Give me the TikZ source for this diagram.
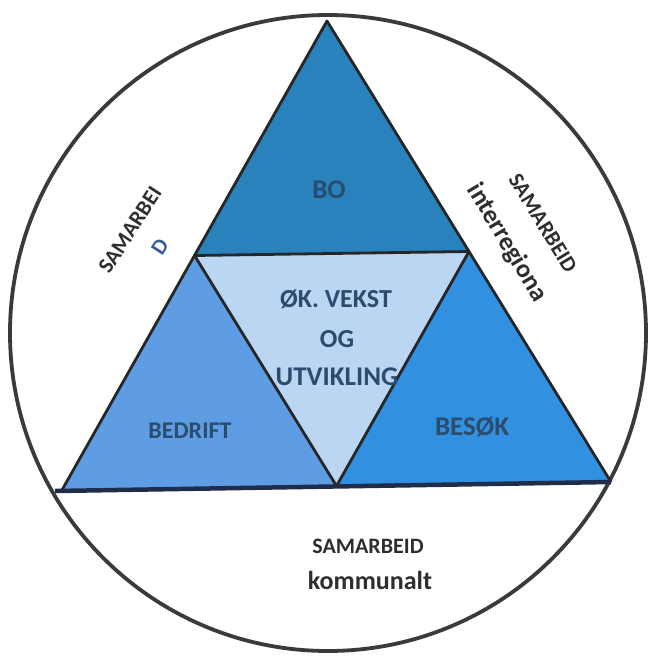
\documentclass[tikz,border=0pt]{standalone}
\usepackage{fontspec}
\setmainfont{Carlito}
\usetikzlibrary{calc}
\definecolor{topc}{HTML}{2A82BC}
\definecolor{leftc}{HTML}{5E9DE3}
\definecolor{rightc}{HTML}{3190E0}
\definecolor{centc}{HTML}{BAD6F3}
\definecolor{intxt}{HTML}{2B4B6F}
\definecolor{outtxt}{HTML}{2E2E2E}
\definecolor{ringc}{HTML}{3A3A3A}
\definecolor{basec}{HTML}{1F2D4A}
\definecolor{dc}{HTML}{3A5D9A}
\begin{document}
\begin{tikzpicture}[x=1pt,y=-1pt,
  edge/.style={draw=black!85, line width=2.8pt, line join=round},
  ring/.style={draw=ringc, line width=3.8pt},
  base/.style={draw=basec, line width=4.5pt},
  intext/.style={text=intxt, font=\fontsize{#1}{#1}\selectfont\bfseries, inner sep=0pt},
  outtext/.style={text=outtxt, font=\fontsize{#1}{#1}\selectfont\bfseries, inner sep=0pt}]
\useasboundingbox (0,0) rectangle (649,667);
\coordinate (A) at (327,21);
\coordinate (L) at (62,490);
\coordinate (R) at (611,482);
\coordinate (mAL) at ($(A)!0.5!(L)$);
\coordinate (mAR) at ($(A)!0.5!(R)$);
\coordinate (mLR) at ($(L)!0.5!(R)$);
\coordinate (O) at (328,333);
% fills
\fill[topc] (A) -- (mAL) -- (mAR) -- cycle;
\fill[leftc] (mAL) -- (L) -- (mLR) -- cycle;
\fill[rightc] (mAR) -- (mLR) -- (R) -- cycle;
\fill[centc] (mAL) -- (mAR) -- (mLR) -- cycle;
% ring
\draw[ring] (O) circle [radius=318pt];
% edges
\draw[edge] (L) -- (A) -- (R);
\draw[edge] (mAL) -- (mAR) -- (mLR) -- cycle;
\coordinate (Lb) at ($(L)+(-7,1)$);
\draw[base] (Lb) -- (R);
% labels
\node[intext=27] (bo) at (329,190) {BO};
\node[intext=26] (ok) at (336,299) {ØK. VEKST};
\node[intext=26] (og) at (337,339) {OG};
\node[intext=27] (utv) at (337,377) {UTVIKLING};
\node[intext=24] (bed) at (190,431) {BEDRIFT};
\node[intext=27] (bes) at (472,427) {BESØK};
\node[outtext=22, rotate=57] (sl) at (130,230) {SAMARBEI};
\node[text=dc, font=\fontsize{22}{22}\selectfont\bfseries, inner sep=0pt, rotate=57] (sld) at (160,247) {D};
\node[outtext=22, rotate=-58.5] (sr) at (543,223) {SAMARBEID};
\node[outtext=26, rotate=-59] (sr2) at (507,243) {interregiona};
\node[outtext=22] (sb) at (368,546) {SAMARBEID};
\node[outtext=26] (sb2) at (370,580) {kommunalt};
\end{tikzpicture}
\end{document}
